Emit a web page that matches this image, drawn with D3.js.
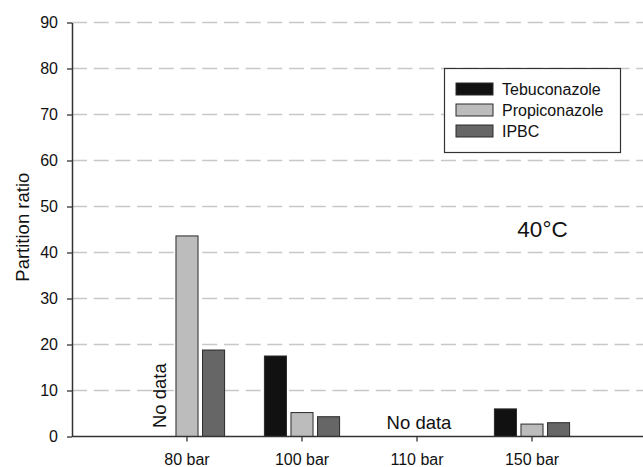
<!DOCTYPE html>
<html>
<head>
<meta charset="utf-8">
<script src="https://cdn.jsdelivr.net/npm/d3@7"></script>
<style>
  body { margin: 0; background: #fff; }
  text { font-family: "Liberation Sans", Arial, sans-serif; fill: #111; }
</style>
</head>
<body>
<svg id="chart" width="643" height="467"></svg>
<script>
// data
const categories = ['80 bar', '100 bar', '110 bar', '150 bar'];
const series = ['Tebuconazole', 'Propiconazole', 'IPBC'];
const tebuconazole = [null, 17.5, null, 6.0];
const propiconazole = [43.6, 5.2, null, 2.7];
const ipbc = [18.8, 4.3, null, 3.0];
const yTicks = [0, 10, 20, 30, 40, 50, 60, 70, 80, 90];
const colors = ['#111111', '#bcbcbc', '#666666'];

const values = [tebuconazole, propiconazole, ipbc];

var margin = { top: 22.5, left: 72, bottom: 30.5 },
    W = 643, H = 467;

var svg = d3.select('#chart');

var x = d3.scaleBand()
    .domain(categories)
    .range([margin.left, 647])
    .paddingInner(0.3)
    .paddingOuter(0.65);

var x1 = d3.scaleBand()
    .domain(series)
    .range([0, x.bandwidth()])
    .paddingInner(0.17)
    .paddingOuter(0.1);

var y = d3.scaleLinear()
    .domain([0, 90])
    .range([H - margin.bottom, margin.top]);

///////////////////////////////
// grid
///////////////////////////////
svg.append('g')
    .selectAll('line')
    .data(yTicks.filter(d => d > 0))
    .enter()
    .append('line')
        .attr('x1', margin.left)
        .attr('x2', W)
        .attr('y1', d => y(d))
        .attr('y2', d => y(d))
        .attr('stroke', '#c8c8c8')
        .attr('stroke-width', 1.3)
        .attr('stroke-dasharray', '15,6.7');

///////////////////////////////
// bars
///////////////////////////////
var rows = [];
categories.forEach((c, i) => {
    series.forEach((s, j) => {
        if (values[j][i] != null) rows.push({ cat: c, s: s, j: j, v: values[j][i] });
    });
});

svg.append('g')
    .selectAll('rect')
    .data(rows)
    .enter()
    .append('rect')
        .attr('x', d => x(d.cat) + x1(d.s))
        .attr('y', d => y(d.v))
        .attr('width', x1.bandwidth())
        .attr('height', d => y(0) - y(d.v))
        .attr('fill', d => colors[d.j])
        .attr('stroke', '#2a2a2a')
        .attr('stroke-width', 1);

///////////////////////////////
// axes
///////////////////////////////
var yAxis = svg.append('g')
    .attr('transform', 'translate(' + margin.left + ',0)')
    .call(d3.axisLeft(y).tickValues(yTicks).tickSize(5).tickPadding(9).tickSizeOuter(0));
yAxis.select('.domain').attr('stroke', '#333').attr('stroke-width', 1.5);
yAxis.selectAll('.tick line').attr('stroke', '#333').attr('stroke-width', 1.3);
yAxis.selectAll('.tick text')
    .attr('font-size', 16)
    .attr('font-family', '"Liberation Sans", Arial, sans-serif')
    .attr('fill', '#111');

var xAxis = svg.append('g')
    .attr('transform', 'translate(0,' + y(0) + ')')
    .call(d3.axisBottom(x).tickSize(5).tickPadding(12.5).tickSizeOuter(0));
xAxis.select('.domain').attr('d', 'M' + margin.left + ',0H' + W).attr('stroke', '#333').attr('stroke-width', 1.5);
xAxis.selectAll('.tick line').attr('stroke', '#333').attr('stroke-width', 1.3);
xAxis.selectAll('.tick text')
    .attr('font-size', 16)
    .attr('font-family', '"Liberation Sans", Arial, sans-serif')
    .attr('fill', '#111');

svg.append('text')
    .attr('transform', 'translate(29,' + y(45.5) + ') rotate(-90)')
    .attr('text-anchor', 'middle')
    .attr('font-size', 18.5)
    .text('Partition ratio');

///////////////////////////////
// annotations
///////////////////////////////
svg.append('text')
    .attr('transform', 'translate(' + (x('80 bar') + x1('Tebuconazole') + x1.bandwidth() / 2 + 5.5) + ',' + (y(0) - 8.5) + ') rotate(-90)')
    .attr('font-size', 18.5)
    .text('No data');

svg.append('text')
    .attr('x', x('110 bar') + x.bandwidth() / 2 + 2)
    .attr('y', y(0) - 7.5)
    .attr('text-anchor', 'middle')
    .attr('font-size', 18.5)
    .text('No data');

svg.append('text')
    .attr('x', 542.5)
    .attr('y', 236.5)
    .attr('text-anchor', 'middle')
    .attr('font-size', 22.5)
    .text('40°C');

///////////////////////////////
// legend
///////////////////////////////
var legend = svg.append('g').attr('transform', 'translate(444.5,68.5)');
legend.append('rect')
    .attr('width', 176)
    .attr('height', 84)
    .attr('fill', '#fff')
    .attr('stroke', '#333')
    .attr('stroke-width', 1.2);

var item = legend.selectAll('g.item')
    .data(series)
    .enter()
    .append('g')
        .attr('class', 'item')
        .attr('transform', (d, i) => 'translate(0,' + (14.5 + i * 21) + ')');
item.append('rect')
    .attr('x', 11.5)
    .attr('width', 37)
    .attr('height', 12)
    .attr('fill', (d, i) => colors[i])
    .attr('stroke', '#2a2a2a')
    .attr('stroke-width', 1);
item.append('text')
    .attr('x', 57.5)
    .attr('y', 12)
    .attr('font-size', 16)
    .text(d => d);
</script>
</body>
</html>
